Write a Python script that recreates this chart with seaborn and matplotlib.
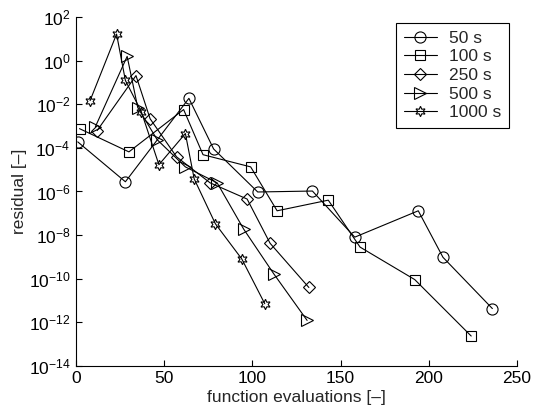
import matplotlib
matplotlib.use("Agg")
import matplotlib.pyplot as plt
import seaborn as sns
import numpy as np
import pandas as pd

labels = ["50 s", "100 s", "250 s", "500 s", "1000 s"]

x_50 = [1, 28, 64, 78, 103, 134, 158, 194, 208, 236]
y_50 = [1.9e-4, 2.8e-6, 1.9e-2, 9e-5, 9.5e-7, 1.05e-6, 8e-9, 1.3e-7, 9.5e-10, 4.2e-12]

x_100 = [2, 30, 61, 72, 99, 114, 143, 161, 192, 224]
y_100 = [7.7e-4, 6.6e-5, 5.8e-3, 4.9e-5, 1.35e-5, 1.3e-7, 4e-7, 2.8e-9, 9e-11, 2.3e-13]

x_250 = [12, 34, 42, 57, 76, 97, 110, 132]
y_250 = [6.3e-4, 0.21, 2.2e-3, 3.9e-5, 2.5e-6, 4.5e-7, 4.2e-9, 3.9e-11]

x_500 = [11, 29, 35, 46, 62, 80, 95, 112, 131]
y_500 = [9.5e-4, 1.6, 7.2e-3, 2.4e-4, 1.35e-5, 2.5e-6, 1.9e-8, 1.7e-10, 1.2e-12]

x_1000 = [8, 23, 28, 37, 47, 62, 67, 79, 94, 107]
y_1000 = [0.015, 17, 0.126, 4.7e-3, 1.7e-5, 4.6e-4, 3.8e-6, 3.3e-8, 7.9e-10, 7e-12]

xs = [x_50, x_100, x_250, x_500, x_1000]
ys = [y_50, y_100, y_250, y_500, y_1000]

x_ticks = [0, 50, 100, 150, 200, 250]
y_ticks = [1e2, 1e0, 1e-2, 1e-4, 1e-6, 1e-8, 1e-10, 1e-12, 1e-14]

markers = ["o", "s", "D", ">", (6, 1, 0)]
msizes = [8, 6.7, 6.3, 8, 7.5]

sns.set_style("white")
plt.rcParams["font.family"] = ["Liberation Sans", "DejaVu Sans"]
plt.rcParams["mathtext.fontset"] = "custom"
plt.rcParams["mathtext.rm"] = "Liberation Sans"
plt.rcParams["mathtext.it"] = "Liberation Sans:italic"
plt.rcParams["mathtext.bf"] = "Liberation Sans:bold"

fig = plt.figure(figsize=(5.34, 4.12), dpi=100)
ax = fig.add_axes([0.1423, 0.1124, 0.826, 0.8456])

for lab, xv, yv, mk, ms in zip(labels, xs, ys, markers, msizes):
    df = pd.DataFrame({"x": xv, "y": yv})
    sns.lineplot(data=df, x="x", y="y", sort=False, estimator=None, ax=ax,
                 color="black", lw=0.8, marker=mk, markersize=ms,
                 markerfacecolor="none", markeredgecolor="black",
                 markeredgewidth=0.8, label=lab)

ax.set_yscale("log")
ax.set_xlim(0, 250)
ax.set_ylim(1e-14, 1e2)
ax.set_xticks(x_ticks)
ax.set_yticks(y_ticks)
ax.yaxis.set_minor_locator(matplotlib.ticker.NullLocator())
ax.tick_params(direction="in", length=4, width=0.8, labelsize=12.5, colors="black",
               left=True, bottom=True, pad=4)
for s in ["top", "right"]:
    ax.spines[s].set_visible(False)
for s in ["left", "bottom"]:
    ax.spines[s].set_color("black")
    ax.spines[s].set_linewidth(0.8)

ax.set_xlabel("function evaluations [–]", fontsize=12.5, labelpad=3)
ax.set_ylabel("residual [–]", fontsize=12.5, labelpad=1)

leg = ax.legend(loc="upper right", bbox_to_anchor=(0.982, 0.984), borderaxespad=0,
                fontsize=12.5, frameon=True, fancybox=False, framealpha=1,
                edgecolor="black", handlelength=1.9, labelspacing=0.2,
                handletextpad=0.7, borderpad=0.45)
leg.get_frame().set_linewidth(0.8)

fig.savefig("out.png", dpi=100)
